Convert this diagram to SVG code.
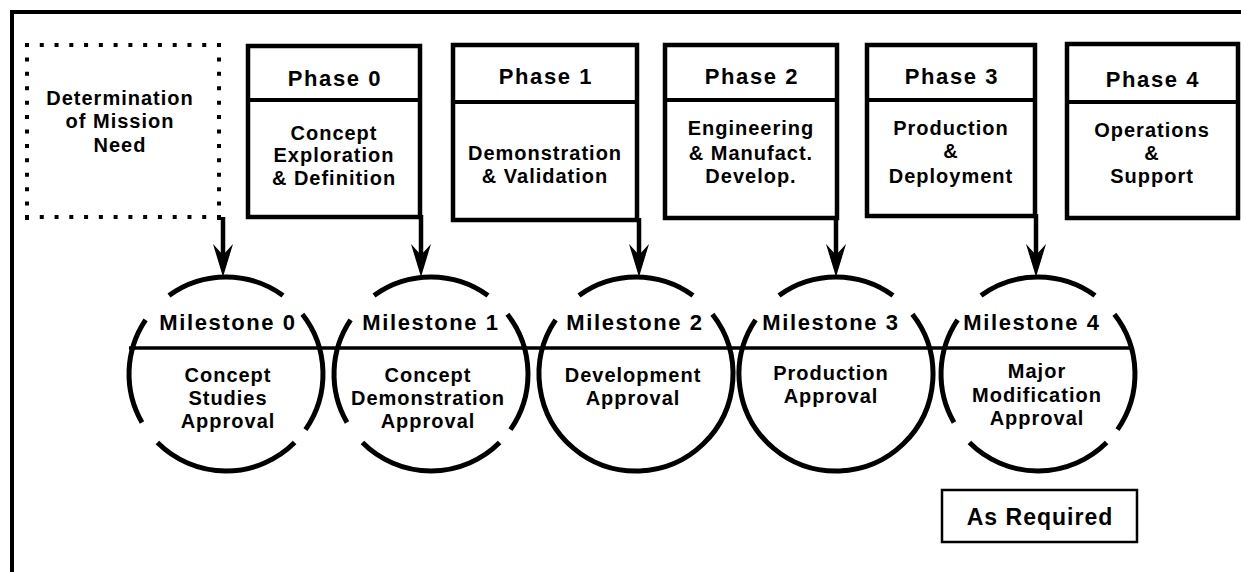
<svg xmlns="http://www.w3.org/2000/svg" width="1241" height="572" viewBox="0 0 1241 572">
<defs>
<style>
text{font-family:"Liberation Sans",Arial,Helvetica,sans-serif;font-weight:bold;fill:#000;text-anchor:middle}
.t{font-size:22px;letter-spacing:1.6px}
.b{font-size:20px;letter-spacing:1px}
.ar{font-size:23px;letter-spacing:1px}
.box{fill:#fff;stroke:#000;stroke-width:4.5}
.div{stroke:#000;stroke-width:4}
.arc{fill:none;stroke:#000;stroke-width:5}
.dot{fill:none;stroke:#000;stroke-width:4}
.conn{stroke:#000;stroke-width:4.5;fill:none}
</style>
<marker id="ah" markerUnits="userSpaceOnUse" orient="auto" viewBox="-34 -12 36 24" markerWidth="36" markerHeight="24" refX="-15" refY="0">
<path d="M0,0 L-33,-10 L-22,0 L-33,10 Z" fill="#000"/>
</marker>
</defs>
<rect x="0" y="0" width="1241" height="572" fill="#fff"/>
<g id="frame">
<path d="M10,12 H1241 M12,10 V572" stroke="#000" stroke-width="4" fill="none"/>
</g>
<g id="mission-need">
<path class="dot" d="M25,45 H221" stroke-dasharray="4 10.77"/>
<path class="dot" d="M25,217 H221" stroke-dasharray="4 10.77"/>
<path class="dot" d="M27,43 V220" stroke-dasharray="4 10.42"/>
<path class="dot" d="M219,43 V220" stroke-dasharray="4 10.42"/>
<text class="b" x="120" y="105">Determination</text>
<text class="b" x="120" y="128">of Mission</text>
<text class="b" x="120" y="152">Need</text>
</g>
<g id="phase0">
<rect class="box" x="248" y="46" width="172" height="171"/>
<line class="div" x1="248" y1="100" x2="420" y2="100"/>
<text class="t" x="335" y="86">Phase 0</text>
<text class="b" x="334" y="140">Concept</text>
<text class="b" x="334" y="162">Exploration</text>
<text class="b" x="334" y="185">&amp; Definition</text>
</g>
<g id="phase1">
<rect class="box" x="453" y="45" width="184" height="175"/>
<line class="div" x1="453" y1="102" x2="637" y2="102"/>
<text class="t" x="546" y="84">Phase 1</text>
<text class="b" x="545" y="160">Demonstration</text>
<text class="b" x="545" y="183">&amp; Validation</text>
</g>
<g id="phase2">
<rect class="box" x="665" y="45" width="172" height="173"/>
<line class="div" x1="665" y1="100" x2="837" y2="100"/>
<text class="t" x="752" y="84">Phase 2</text>
<text class="b" x="751" y="135">Engineering</text>
<text class="b" x="751" y="160">&amp; Manufact.</text>
<text class="b" x="751" y="183">Develop.</text>
</g>
<g id="phase3">
<rect class="box" x="867" y="45" width="168" height="171"/>
<line class="div" x1="867" y1="100" x2="1035" y2="100"/>
<text class="t" x="952" y="84">Phase 3</text>
<text class="b" x="951" y="135">Production</text>
<text class="b" x="951" y="158">&amp;</text>
<text class="b" x="951" y="183">Deployment</text>
</g>
<g id="phase4">
<rect class="box" x="1067" y="44" width="171" height="174"/>
<line class="div" x1="1067" y1="102" x2="1238" y2="102"/>
<text class="t" x="1153" y="87">Phase 4</text>
<text class="b" x="1152" y="137">Operations</text>
<text class="b" x="1152" y="160">&amp;</text>
<text class="b" x="1152" y="183">Support</text>
</g>
<g id="connectors">
<line class="conn" x1="223" y1="217" x2="223" y2="262" marker-end="url(#ah)"/>
<line class="conn" x1="421" y1="215" x2="421" y2="262" marker-end="url(#ah)"/>
<line class="conn" x1="639" y1="218" x2="639" y2="262" marker-end="url(#ah)"/>
<line class="conn" x1="836" y1="216" x2="836" y2="262" marker-end="url(#ah)"/>
<line class="conn" x1="1036" y1="214" x2="1036" y2="262" marker-end="url(#ah)"/>
</g>
<g id="timeline">
<line x1="129" y1="348" x2="1133" y2="348" stroke="#000" stroke-width="3.5"/>
</g>
<g id="milestone0">
<g transform="translate(226,374)">
<path class="arc" d="M-57,-78.5 A97,97 0 0 1 57,-78.5"/>
<path class="arc" d="M76.4,-59.7 A97,97 0 0 1 79.5,55.6"/>
<path class="arc" d="M68.6,68.6 A97,97 0 0 1 -68.6,68.6"/>
<path class="arc" d="M-84,48.5 A97,97 0 0 1 -80.4,-54.2"/>
</g>
<text class="t" x="228" y="330">Milestone 0</text>
<text class="b" x="228" y="382">Concept</text>
<text class="b" x="228" y="405">Studies</text>
<text class="b" x="228" y="428">Approval</text>
</g>
<g id="milestone1">
<g transform="translate(431,374)">
<path class="arc" d="M-57,-78.5 A97,97 0 0 1 57,-78.5"/>
<path class="arc" d="M76.4,-59.7 A97,97 0 0 1 79.5,55.6"/>
<path class="arc" d="M68.6,68.6 A97,97 0 0 1 -68.6,68.6"/>
<path class="arc" d="M-84,48.5 A97,97 0 0 1 -80.4,-54.2"/>
</g>
<text class="t" x="431" y="330">Milestone 1</text>
<text class="b" x="428" y="382">Concept</text>
<text class="b" x="428" y="405">Demonstration</text>
<text class="b" x="428" y="428">Approval</text>
</g>
<g id="milestone2">
<g transform="translate(636,374)">
<path class="arc" d="M-57,-78.5 A97,97 0 0 1 57,-78.5"/>
<path class="arc" d="M76.4,-59.7 A97,97 0 1 1 -80.4,-54.2"/>
</g>
<text class="t" x="635" y="330">Milestone 2</text>
<text class="b" x="633" y="382">Development</text>
<text class="b" x="633" y="405">Approval</text>
</g>
<g id="milestone3">
<g transform="translate(836,374)">
<path class="arc" d="M-57,-78.5 A97,97 0 0 1 57,-78.5"/>
<path class="arc" d="M76.4,-59.7 A97,97 0 1 1 -80.4,-54.2"/>
</g>
<text class="t" x="831" y="330">Milestone 3</text>
<text class="b" x="831" y="380">Production</text>
<text class="b" x="831" y="403">Approval</text>
</g>
<g id="milestone4">
<g transform="translate(1038,374)">
<path class="arc" d="M-57,-78.5 A97,97 0 0 1 57,-78.5"/>
<path class="arc" d="M76.4,-59.7 A97,97 0 0 1 79.5,55.6"/>
<path class="arc" d="M68.6,68.6 A97,97 0 0 1 -68.6,68.6"/>
<path class="arc" d="M-84,48.5 A97,97 0 0 1 -80.4,-54.2"/>
</g>
<text class="t" x="1032" y="330">Milestone 4</text>
<text class="b" x="1037" y="378">Major</text>
<text class="b" x="1037" y="402">Modification</text>
<text class="b" x="1037" y="425">Approval</text>
</g>
<g id="as-required">
<rect x="942" y="490" width="195" height="52" fill="#fff" stroke="#000" stroke-width="2.5"/>
<text class="ar" x="1040" y="525">As Required</text>
</g>
</svg>
